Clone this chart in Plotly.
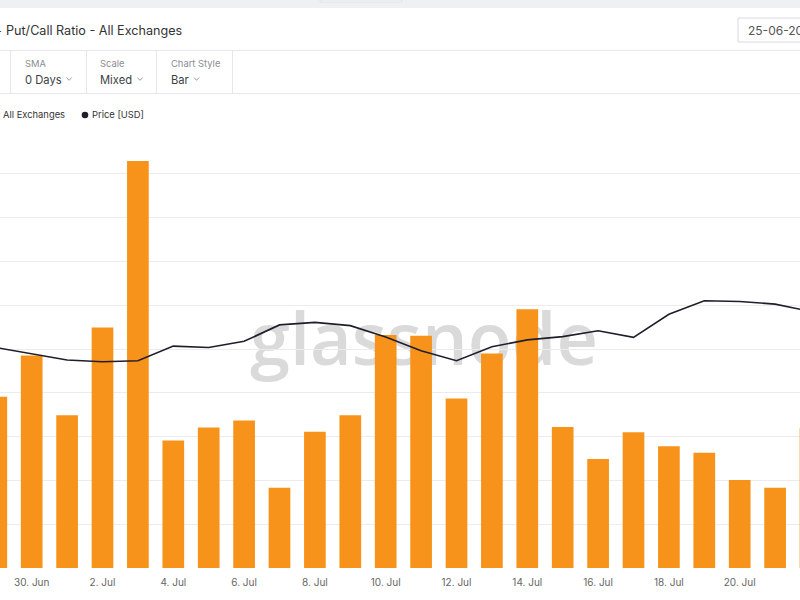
import plotly.graph_objects as go
import pandas as pd

# ---------------- data ----------------
dates = pd.date_range("2023-06-29", "2023-07-22", freq="D")
put_call_ratio = [0.391, 0.485, 0.349, 0.549, 0.929, 0.291, 0.321, 0.337,
                  0.183, 0.311, 0.349, 0.532, 0.530, 0.387, 0.490, 0.591,
                  0.322, 0.249, 0.310, 0.278, 0.263, 0.201, 0.183, 0.319]
price_usd = [1604, 1586, 1570, 1565, 1568, 1608, 1604, 1621, 1666, 1673,
             1664, 1633, 1595, 1568, 1606, 1625, 1634, 1650, 1632, 1695,
             1732, 1730, 1723, 1703]

title_text = "Put/Call Ratio - All Exchanges"
legend_labels = ["All Exchanges", "Price [USD]"]
controls = [("SMA", "0 Days"), ("Scale", "Mixed"), ("Chart Style", "Bar")]
date_box_text = "25-06-20"

W, H = 800, 600
FONT = "Inter, Roboto, sans-serif"
ORANGE = "#f7931a"
LINE = "#1f1f2c"


def px(x):
    return x / W


def py(y):
    return 1 - y / H


fig = go.Figure()
fig.add_trace(go.Bar(x=dates, y=put_call_ratio, marker=dict(color=ORANGE, line=dict(width=0)),
                     name=legend_labels[0], yaxis="y"))
fig.add_trace(go.Scatter(x=dates, y=price_usd, mode="lines", line=dict(color=LINE, width=1.6),
                         name=legend_labels[1], yaxis="y2"))

ref = pd.Timestamp("2023-06-30")
day_px = 35.4
x_start = ref - pd.Timedelta(days=31.7 / day_px)
x_end = ref + pd.Timedelta(days=(W - 31.7) / day_px)

shapes = []
annotations = []

# top strip
shapes.append(dict(type="rect", xref="paper", yref="paper", x0=0, x1=1, y0=py(8), y1=1,
                   fillcolor="#eff0f2", line=dict(width=0), layer="below"))
shapes.append(dict(type="rect", xref="paper", yref="paper", x0=px(320), x1=px(402), y0=py(2), y1=1,
                   fillcolor="#f7f7f8", line=dict(width=0.8, color="#dedfe2"), layer="below"))
# separators
for yy in (50.5, 93.5):
    shapes.append(dict(type="line", xref="paper", yref="paper", x0=0, x1=1, y0=py(yy), y1=py(yy),
                       line=dict(color="#e6e7ea", width=1)))
for xx in (10.5, 86.5, 156.5, 232.5):
    shapes.append(dict(type="line", xref="paper", yref="paper", x0=px(xx), x1=px(xx), y0=py(51), y1=py(93),
                       line=dict(color="#e6e7ea", width=1)))
# date box
shapes.append(dict(type="rect", xref="paper", yref="paper", x0=px(738), x1=px(812), y0=py(42), y1=py(18),
                   fillcolor="white", line=dict(color="#d9dadd", width=1)))
annotations.append(dict(text=date_box_text, xref="paper", yref="paper", x=px(746), y=py(30.5),
                        xanchor="left", yanchor="middle", showarrow=False,
                        font=dict(family=FONT, size=12, color="#555")))

# title
annotations.append(dict(text=title_text, xref="paper", yref="paper", x=px(3.5), y=py(30),
                        xanchor="left", yanchor="middle", showarrow=False,
                        font=dict(family=FONT, size=12.6, color="#333")))
annotations.append(dict(text="-", xref="paper", yref="paper", x=px(4), y=py(30),
                        xanchor="right", yanchor="middle", showarrow=False,
                        font=dict(family=FONT, size=12.6, color="#333")))

# controls
ctrl_x = [24, 99, 170]
chev_x = [66.5, 137.5, 194]
for (lab, val), cx, chx in zip(controls, ctrl_x, chev_x):
    annotations.append(dict(text=lab, xref="paper", yref="paper", x=px(cx - 1), y=py(63.5),
                            xanchor="left", yanchor="middle", showarrow=False,
                            font=dict(family=FONT, size=9.4, color="#8a8d93")))
    annotations.append(dict(text=val, xref="paper", yref="paper", x=px(cx - 1), y=py(79.5),
                            xanchor="left", yanchor="middle", showarrow=False,
                            font=dict(family=FONT, size=11.2, color="#3c3f44")))
    shapes.append(dict(type="path", xref="paper", yref="paper",
                       path=f"M {px(chx)} {py(77.5)} L {px(chx + 2.6)} {py(80.3)} L {px(chx + 5.2)} {py(77.5)}",
                       line=dict(color="#9a9da3", width=1)))

# legend
annotations.append(dict(text=legend_labels[0], xref="paper", yref="paper", x=px(1), y=py(115),
                        xanchor="left", yanchor="middle", showarrow=False,
                        font=dict(family=FONT, size=9.4, color="#333")))
shapes.append(dict(type="circle", xref="paper", yref="paper", x0=px(81.7), x1=px(88.3),
                   y0=py(118.3), y1=py(111.7), fillcolor=LINE, line=dict(width=0)))
annotations.append(dict(text=legend_labels[1], xref="paper", yref="paper", x=px(90), y=py(115),
                        xanchor="left", yanchor="middle", showarrow=False,
                        font=dict(family=FONT, size=9.4, color="#333")))

# watermark, behind the bars
shapes.append(dict(type="rect", xref="paper", yref="paper", x0=px(224), x1=px(624), y0=py(392), y1=py(292),
                   line=dict(width=0), fillcolor="rgba(0,0,0,0)", layer="below",
                   label=dict(text="glassnode", textposition="middle center",
                              font=dict(family="Open Sans, Roboto, sans-serif", size=72,
                                        color="#dadada", weight=600))))

# partially visible tick label at the right edge
annotations.append(dict(text="22. Jul", xref="x", yref="paper", x=pd.Timestamp("2023-07-22"), y=py(581.7),
                        xanchor="center", yanchor="middle", showarrow=False,
                        font=dict(family=FONT, size=10, color="#666")))

fig.update_layout(
    width=W, height=H,
    margin=dict(l=0, r=0, t=0, b=0),
    paper_bgcolor="white", plot_bgcolor="white",
    showlegend=False,
    bargap=0.387,
    shapes=shapes,
    annotations=annotations,
    xaxis=dict(type="date", range=[x_start, x_end], domain=[0, 1],
               tickformat="%-d. %b", dtick=2 * 86400000, tick0="2023-06-30",
               showgrid=False, zeroline=False, showline=False, ticks="",
               ticklabelstandoff=7,
               tickfont=dict(family=FONT, size=10, color="#666")),
    yaxis=dict(range=[0, 1.0], dtick=0.1, domain=[32 / H, 470 / H],
               showticklabels=False, showgrid=True, gridcolor="#ececec", gridwidth=1,
               zeroline=False, showline=False),
    yaxis2=dict(range=[1000, 2200], overlaying="y", side="right",
                showticklabels=False, showgrid=False, zeroline=False, showline=False),
)

fig.write_html("out.html")
